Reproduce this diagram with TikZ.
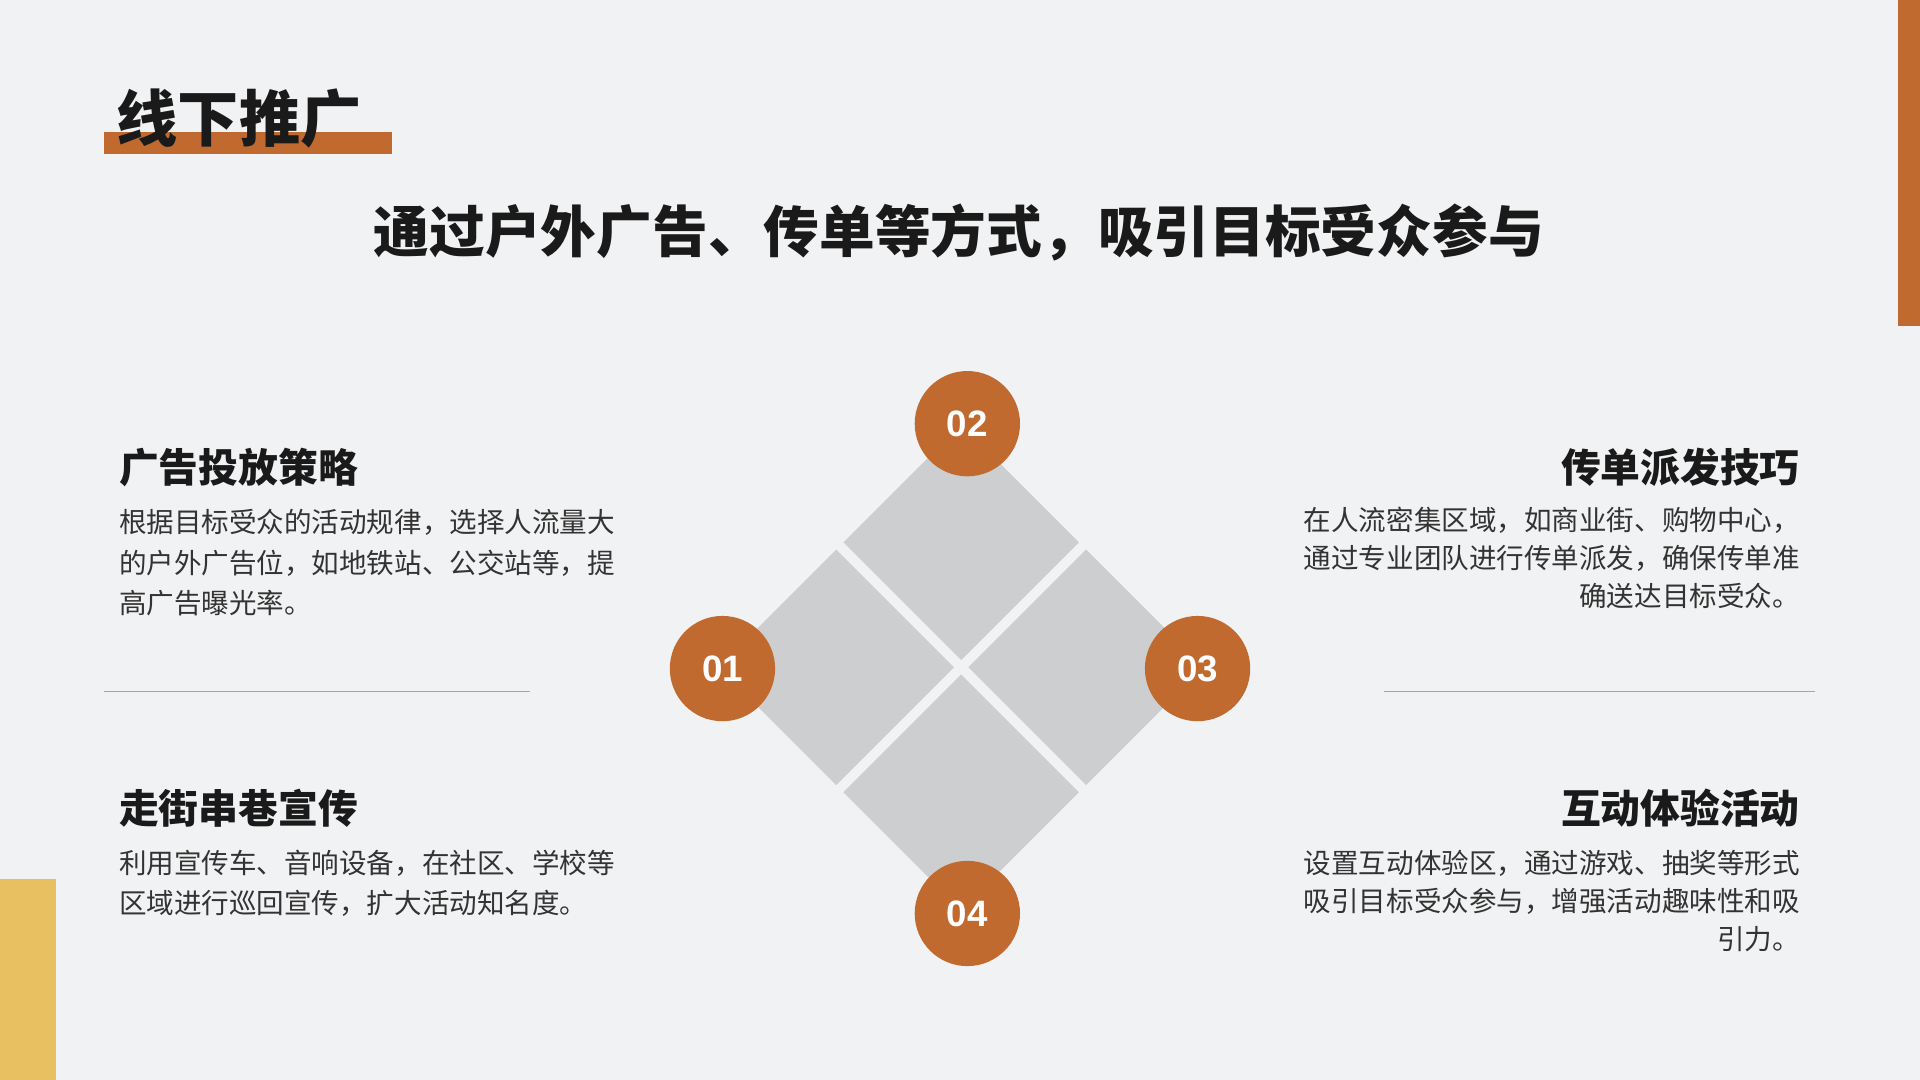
\documentclass[tikz,border=0pt]{standalone}
\usepackage{fontspec}
\setmainfont{Noto Sans CJK SC}
\newfontfamily\numfont{Liberation Sans}
\definecolor{bg}{HTML}{F1F2F3}
\definecolor{org}{HTML}{C06A30}
\definecolor{ylw}{HTML}{E8C062}
\definecolor{sq}{HTML}{CDCECF}
\definecolor{txt}{HTML}{1A1A1A}
\definecolor{body}{HTML}{333333}
\tikzset{
  sqr/.style={fill=sq,draw=none,minimum size=136pt,rotate=45,inner sep=0pt},
  num/.style={circle,fill=org,minimum size=86pt,inner sep=0pt,text=white,font=\numfont\bfseries\fontsize{30}{30}\selectfont},
  head/.style={font=\bfseries\fontsize{32.5}{36}\selectfont,text=txt,inner sep=0pt},
  bodyl/.style={font=\fontsize{22.5}{33}\selectfont,text=body,align=left,inner sep=0pt,anchor=north west},
  bodyr/.style={font=\fontsize{22.5}{31}\selectfont,text=body,align=right,inner sep=0pt,anchor=north east},
  sep/.style={draw=gray!70,line width=0.8pt}
}
\begin{document}
\begin{tikzpicture}[x=1pt,y=-1pt]
\fill[bg] (0,0) rectangle (1568,882);
\useasboundingbox (0,0) rectangle (1568,882);
\fill[org] (1550,0) rectangle (1568,266);
\fill[ylw] (0,718) rectangle (46,882);
\fill[org] (85,108) rectangle (320,126);
\node[anchor=west,inner sep=0pt,font=\bfseries\fontsize{50}{50}\selectfont,text=txt] (title) at (95,97) {线下推广};
\node[inner sep=0pt,font=\bfseries\fontsize{45.5}{50}\selectfont,text=txt] (sub) at (783,190) {通过户外广告、传单等方式，吸引目标受众参与};
\node[sqr] (s2) at (785,443) {};
\node[sqr] (s1) at (683,545) {};
\node[sqr] (s3) at (887,545) {};
\node[sqr] (s4) at (785,647) {};
\node[num] (c2) at (790,346) {02};
\node[num] (c1) at (590,546) {01};
\node[num] (c3) at (978,546) {03};
\node[num] (c4) at (790,746) {04};
\node[head,anchor=west] (h1) at (97,382) {广告投放策略};
\node[bodyl] (b1) at (97,416) {根据目标受众的活动规律，选择人流量大\\的户外广告位，如地铁站、公交站等，提\\高广告曝光率。};
\node[head,anchor=west] (h4) at (97,660) {走街串巷宣传};
\node[bodyl] (b4) at (97,694) {利用宣传车、音响设备，在社区、学校等\\区域进行巡回宣传，扩大活动知名度。};
\node[head,anchor=east] (h3) at (1470,382) {传单派发技巧};
\node[bodyr] (b3) at (1470,414) {在人流密集区域，如商业街、购物中心，\\通过专业团队进行传单派发，确保传单准\\确送达目标受众。};
\node[head,anchor=east] (h5) at (1470,660) {互动体验活动};
\node[bodyr] (b5) at (1470,694) {设置互动体验区，通过游戏、抽奖等形式\\吸引目标受众参与，增强活动趣味性和吸\\引力。};
\coordinate (l1) at (85,565); \coordinate (l2) at (433,565);
\coordinate (r1) at (1130,565); \coordinate (r2) at (1482,565);
\draw[sep] (l1) -- (l2);
\draw[sep] (r1) -- (r2);
\end{tikzpicture}
\end{document}
